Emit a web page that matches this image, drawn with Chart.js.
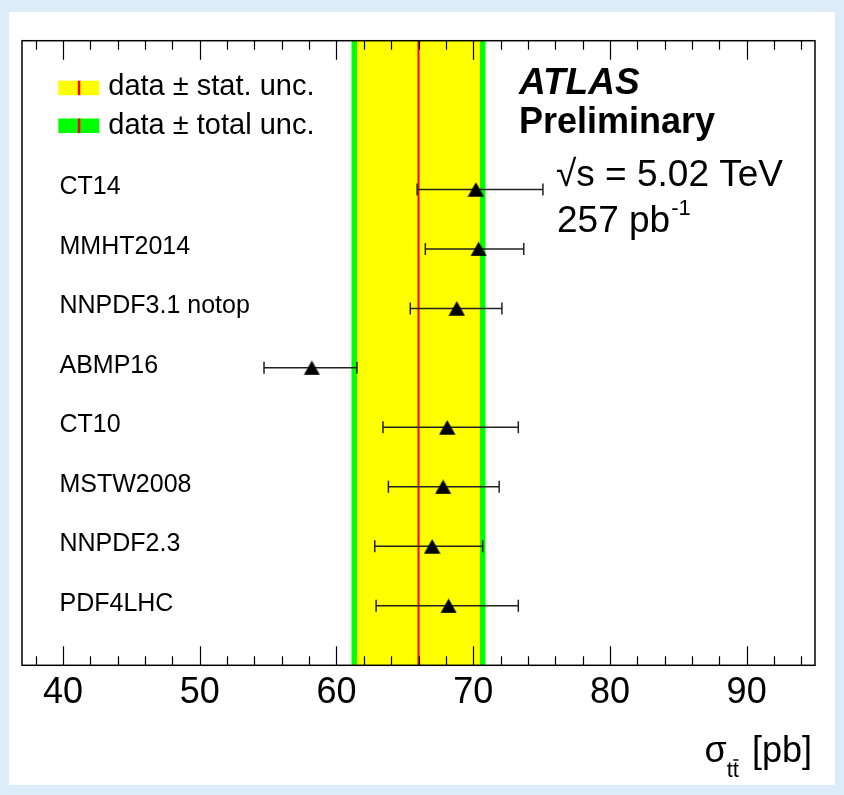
<!DOCTYPE html>
<html>
<head>
<meta charset="utf-8">
<script src="https://cdn.jsdelivr.net/npm/chart.js@4.4.1/dist/chart.umd.min.js"></script>
<style>
  html, body { margin: 0; padding: 0; background: #dcedf9; }
  #wrap { position: absolute; left: 9px; top: 12px; width: 826px; height: 773px; background: #fff; }
  canvas { display: block; }
</style>
</head>
<body>
<div id="wrap"><canvas id="xsecCanvas" width="826" height="773"></canvas></div>
<script>
const pdfSets = ["CT14", "MMHT2014", "NNPDF3.1 notop", "ABMP16", "CT10", "MSTW2008", "NNPDF2.3", "PDF4LHC"];
const xsec = [70.2, 70.4, 68.8, 58.2, 68.1, 67.8, 67.0, 68.2];
const errDown = [4.3, 3.9, 3.4, 3.5, 4.7, 4.0, 4.2, 5.3];
const errUp = [4.9, 3.3, 3.3, 3.3, 5.2, 4.1, 3.7, 5.1];
const measured = 66.0;
const statUnc = 4.5;
const totalUnc = 4.9;
const xTickLabels = [40, 50, 60, 70, 80, 90];

const FONT = "'Liberation Sans', Arial, Helvetica, sans-serif";

// centred triangle marker (ROOT style 22)
const tri = document.createElement("canvas");
tri.width = 17;
tri.height = 15;
const tctx = tri.getContext("2d");
tctx.fillStyle = "#000";
tctx.beginPath();
tctx.moveTo(8.5, 0.3);
tctx.lineTo(16.7, 14.7);
tctx.lineTo(0.3, 14.7);
tctx.closePath();
tctx.fill();

const atlasPlugin = {
  id: "atlasDecor",
  beforeDatasetsDraw(chart) {
    const { ctx, chartArea: a, scales: { x, y } } = chart;
    ctx.save();
    // total and stat bands
    const g1 = x.getPixelForValue(measured - totalUnc), g2 = x.getPixelForValue(measured + totalUnc);
    const y1 = x.getPixelForValue(measured - statUnc), y2 = x.getPixelForValue(measured + statUnc);
    ctx.fillStyle = "#00ff00";
    ctx.fillRect(g1, a.top, g2 - g1, a.bottom - a.top);
    ctx.fillStyle = "#ffff00";
    ctx.fillRect(y1, a.top, y2 - y1, a.bottom - a.top);
    ctx.strokeStyle = "#ff0000";
    ctx.lineWidth = 2;
    const cx = x.getPixelForValue(measured);
    ctx.beginPath();
    ctx.moveTo(cx, a.top);
    ctx.lineTo(cx, a.bottom);
    ctx.stroke();

    // error bars
    ctx.strokeStyle = "#222";
    ctx.lineWidth = 1.5;
    for (let i = 0; i < xsec.length; i++) {
      const py = y.getPixelForValue(i);
      const lo = x.getPixelForValue(xsec[i] - errDown[i]);
      const hi = x.getPixelForValue(xsec[i] + errUp[i]);
      ctx.beginPath();
      ctx.moveTo(lo, py);
      ctx.lineTo(hi, py);
      ctx.moveTo(lo, py - 6);
      ctx.lineTo(lo, py + 6);
      ctx.moveTo(hi, py - 6);
      ctx.lineTo(hi, py + 6);
      ctx.stroke();
    }
    ctx.restore();
  },
  afterDraw(chart) {
    const { ctx, chartArea: a, scales: { x, y } } = chart;
    ctx.save();
    // frame
    ctx.strokeStyle = "#000";
    ctx.lineWidth = 1.5;
    ctx.strokeRect(a.left, a.top, a.right - a.left, a.bottom - a.top);
    // ticks inside, top and bottom
    ctx.lineWidth = 1.2;
    ctx.beginPath();
    for (let v = 38; v <= 94; v += 2) {
      const px = Math.round(x.getPixelForValue(v)) + 0.5;
      const len = v % 10 === 0 ? 19 : 9;
      ctx.moveTo(px, a.bottom);
      ctx.lineTo(px, a.bottom - len);
      ctx.moveTo(px, a.top);
      ctx.lineTo(px, a.top + len);
    }
    ctx.stroke();

    ctx.fillStyle = "#000";
    // row labels
    ctx.font = "25px " + FONT;
    ctx.textBaseline = "middle";
    ctx.textAlign = "left";
    pdfSets.forEach((name, i) => {
      ctx.fillText(name, a.left + 37.5, y.getPixelForValue(i) - 2);
    });

    // legend
    ctx.textBaseline = "alphabetic";
    const legendRows = [
      { fill: "#ffff00", text: "data \u00b1 stat. unc.", top: 68.7, base: 83 },
      { fill: "#00ff00", text: "data \u00b1 total unc.", top: 106.5, base: 122 }
    ];
    ctx.font = "29px " + FONT;
    legendRows.forEach(r => {
      ctx.fillStyle = r.fill;
      ctx.fillRect(49.3, r.top, 41, 14.5);
      ctx.fillStyle = "#ff0000";
      ctx.fillRect(68.8, r.top, 2.5, 14.5);
      ctx.fillStyle = "#000";
      ctx.fillText(r.text, 99.3, r.base);
    });

    // ATLAS label
    ctx.font = "bold italic 37px " + FONT;
    ctx.fillText("ATLAS", 510, 82);
    ctx.font = "bold 36px " + FONT;
    ctx.fillText("Preliminary", 510, 121);
    ctx.font = "37px " + FONT;
    ctx.fillText("\u221As = 5.02 TeV", 547, 174);
    ctx.fillText("257 pb", 548, 220);
    const wpb = ctx.measureText("257 pb").width;
    ctx.font = "22px " + FONT;
    ctx.fillText("-1", 548 + wpb + 1, 203);

    // axis title
    const base = 750;
    const right = a.right - 3;
    ctx.font = "36px " + FONT;
    ctx.textAlign = "right";
    ctx.fillText(" [pb]", right, base);
    const wBr = ctx.measureText(" [pb]").width;
    ctx.font = "22px " + FONT;
    const wSub = ctx.measureText("tt").width;
    const wT = ctx.measureText("t").width;
    ctx.textAlign = "left";
    const subX = right - wBr - wSub - 3;
    ctx.fillText("tt", subX, base + 15);
    ctx.lineWidth = 1.5;
    ctx.beginPath();
    ctx.moveTo(subX + wT + 0.5, base - 2);
    ctx.lineTo(subX + 2 * wT - 0.5, base - 2);
    ctx.stroke();
    ctx.font = "36px " + FONT;
    ctx.textAlign = "right";
    ctx.fillText("\u03c3", subX, base);
    ctx.restore();
  }
};

const config = {
  type: "scatter",
  data: {
    datasets: [{
      label: "PDF predictions",
      data: xsec.map((v, i) => ({ x: v, y: i })),
      pointStyle: tri,
      pointRadius: 8,
      backgroundColor: "#000",
      borderColor: "#000"
    }]
  },
  options: {
    responsive: false,
    animation: false,
    layout: { padding: { left: 13, top: 28.7, right: 20, bottom: 0 } },
    plugins: {
      legend: { display: false },
      tooltip: { enabled: false }
    },
    scales: {
      x: {
        type: "linear",
        position: "bottom",
        min: 37,
        max: 95,
        grid: { display: false, drawTicks: false },
        border: { display: false },
        ticks: {
          color: "#000",
          font: { family: FONT, size: 36 },
          padding: 6,
          maxRotation: 0,
          autoSkip: false
        },
        afterBuildTicks: s => { s.ticks = xTickLabels.map(v => ({ value: v })); },
        afterFit: s => { s.height = 119.7; }
      },
      y: {
        type: "linear",
        min: -2.5,
        max: 8,
        reverse: true,
        display: false
      }
    }
  },
  plugins: [atlasPlugin]
};

const canvas = document.getElementById("xsecCanvas");
if (canvas) {
  new Chart(canvas.getContext("2d"), config);
} else {
  console.error("canvas not found");
}
</script>
</body>
</html>
